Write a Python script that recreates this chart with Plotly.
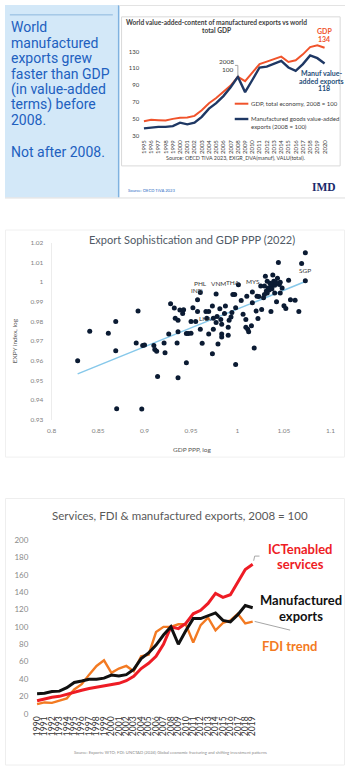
import plotly.graph_objects as go

W, H = 350, 774

def px(x):
    return x / W

def py(y):
    return 1 - y / H

# ---------------- Panel 1 data ----------------
years_top = list(range(1995, 2021))
gdp_index = [47.8, 49.4, 49, 48.6, 50.5, 51.7, 52, 54, 60.6, 69, 75, 82, 89.7, 100,
             95, 105, 115, 118, 120.7, 123.8, 117.5, 119.5, 126.5, 135, 137.3, 134.3]
manuf_va_index = [39.3, 40.5, 41, 41, 42, 46, 44, 46, 52.9, 62.6, 69, 77.3, 87.8, 100,
                  82, 96.3, 111, 112, 115.7, 118.7, 111, 107, 115, 125.3, 122, 115.7]
top_yticks = [30, 50, 70, 90, 110, 130]
left_text_lines = ["World", "manufactured", "exports grew", "faster than GDP",
                   "(in value-added", "terms) before", "2008."]
left_text_last = "Not after 2008."

# ---------------- Panel 2 data ----------------
gdp_ppp_log = [0.828, 0.841, 0.861, 0.869, 0.869, 0.870, 0.893, 0.891, 0.898, 0.900,
               0.897, 0.910, 0.911, 0.913, 0.914, 0.921, 0.922, 0.926, 0.928, 0.932,
               0.933, 0.936, 0.936, 0.935, 0.936, 0.938, 0.941, 0.942, 0.945, 0.945,
               0.947, 0.950, 0.950, 0.952, 0.955, 0.957, 0.957, 0.960, 0.960, 0.962,
               0.966, 0.967, 0.969, 0.969, 0.973, 0.973, 0.974, 0.974, 0.977, 0.977,
               0.978, 0.979, 0.981, 0.982, 0.983, 0.983, 0.983, 0.986, 0.987, 0.990,
               0.990, 0.991, 0.993, 0.994, 0.995, 0.997, 0.998, 0.998, 1.001, 1.004,
               1.006, 1.009, 1.009, 1.011, 1.012, 1.015, 1.010, 1.016, 1.016, 1.018,
               1.020, 1.021, 1.022, 1.023, 1.025, 1.026, 1.028, 1.029, 1.030, 1.031,
               1.032, 1.033, 1.035, 1.036, 1.036, 1.038, 1.039, 1.040, 1.042, 1.043,
               1.044, 1.045, 1.046, 1.048, 1.050, 1.052, 1.055, 1.057, 1.062, 1.066,
               1.069, 1.073, 1.073, 1.037, 1.040, 1.041, 1.034, 1.037, 1.032, 1.029,
               1.046]
expy_log = [0.960, 0.975, 0.974, 0.980, 0.965, 0.9355, 0.9853, 0.969, 0.9677, 0.968,
            0.9354, 0.9677, 0.9657, 0.9648, 0.952, 0.969, 0.964, 0.9736, 0.989, 0.9868,
            0.9816, 0.9806, 0.9748, 0.969, 0.9513, 0.9858, 0.984, 0.986, 0.959, 0.9739,
            0.9739, 0.974, 0.980, 0.987, 0.980, 0.991, 0.985, 0.9947, 0.976, 0.9689,
            0.985, 0.9816, 0.985, 0.9736, 0.9635, 0.9878, 0.9816, 0.976, 0.994, 0.9794,
            0.9825, 0.9685, 0.9865, 0.981, 0.9786, 0.9736, 0.972, 0.984, 0.9878, 0.977,
            0.973, 0.9806, 0.9823, 0.9845, 0.9937, 0.9937, 0.958, 0.987, 0.9987, 0.9907,
            0.9836, 0.981, 0.977, 0.976, 0.9748, 0.9778, 0.9928, 0.9895, 0.995, 0.9664,
            0.9853, 0.9928, 0.9815, 0.9927, 0.998, 0.9861, 0.992, 0.998, 1.003, 0.9955,
            1.0005, 0.997, 0.9995, 0.998, 0.985, 1.0037, 1.0004, 0.9945, 0.990, 1.002,
            1.010, 0.9988, 1.000, 0.997, 0.988, 0.9866, 1.001, 0.991, 0.9908, 0.985,
            1.0095, 1.015, 1.0007, 0.999, 0.9984, 1.000, 0.996, 0.9967, 0.9945, 0.9937,
            0.9945]
trend_x = [0.828, 1.073]
trend_y = [0.9533, 1.0003]
country_labels = [("PHL", 0.9607, 0.9995), ("VNM", 0.9798, 0.9994), ("IND", 0.9565, 0.9959),
                  ("THA", 0.9955, 0.9996), ("MYS", 1.0164, 1.0004), ("LKA", 0.9659, 0.9813),
                  ("SGP", 1.0731, 1.0059)]
sc_xticks = [0.8, 0.85, 0.9, 0.95, 1.0, 1.05, 1.1]
sc_xticktext = ["0.8", "0.85", "0.9", "0.95", "1", "1.05", "1.1"]
sc_yticks = [0.93, 0.94, 0.95, 0.96, 0.97, 0.98, 0.99, 1.0, 1.01, 1.02]
sc_yticktext = ["0.93", "0.94", "0.95", "0.96", "0.97", "0.98", "0.99", "1", "1.01", "1.02"]

# ---------------- Panel 3 data ----------------
years_bot = list(range(1990, 2020))
ict_services = [15, 17, 19, 20, 22.6, 24.5, 27, 29, 30.5, 32, 34, 35, 38, 43, 52, 58, 66, 80,
                100, 98, 104, 115, 119, 127, 138.5, 134, 137, 151, 166, 172]
manuf_exports = [23, 23.5, 25.5, 26, 30, 36, 37.7, 39.6, 39.6, 41, 44.5, 43.4, 45, 51, 63.4,
                 70, 79, 90.6, 100, 80, 95.5, 109.5, 109.5, 113, 116, 107.5, 105.7, 114, 124.5, 122]
fdi_trend = [11, 13, 12.5, 15, 17.7, 28, 34, 45, 55, 61.5, 47, 52, 55, 49, 66, 68, 94, 100,
             100, 103, 103, 82, 102, 110.6, 96, 104.5, 107.5, 115, 104, 106]
bot_yticks = [0, 20, 40, 60, 80, 100, 120, 140, 160, 180, 200]

GRAY = "#595959"
fig = go.Figure()

# Panel 1 traces
fig.add_trace(go.Scatter(x=years_top, y=gdp_index, mode="lines",
                         line=dict(color="#f0532b", width=2), xaxis="x", yaxis="y",
                         showlegend=False, hoverinfo="skip"))
fig.add_trace(go.Scatter(x=years_top, y=manuf_va_index, mode="lines",
                         line=dict(color="#1f3864", width=2.4), xaxis="x", yaxis="y",
                         showlegend=False, hoverinfo="skip"))
# Panel 2 traces
fig.add_trace(go.Scatter(x=trend_x, y=trend_y, mode="lines",
                         line=dict(color="#86c8ea", width=1.5), xaxis="x2", yaxis="y2",
                         showlegend=False, hoverinfo="skip"))
fig.add_trace(go.Scatter(x=gdp_ppp_log, y=expy_log, mode="markers",
                         marker=dict(color="#0b1b33", size=5), xaxis="x2", yaxis="y2",
                         showlegend=False, hoverinfo="skip"))
# Panel 3 traces
fig.add_trace(go.Scatter(x=years_bot, y=fdi_trend, mode="lines",
                         line=dict(color="#f37a22", width=2.4), xaxis="x3", yaxis="y3",
                         showlegend=False, hoverinfo="skip"))
fig.add_trace(go.Scatter(x=years_bot, y=ict_services, mode="lines",
                         line=dict(color="#ee1c25", width=3), xaxis="x3", yaxis="y3",
                         showlegend=False, hoverinfo="skip"))
fig.add_trace(go.Scatter(x=years_bot, y=manuf_exports, mode="lines",
                         line=dict(color="#111111", width=3), xaxis="x3", yaxis="y3",
                         showlegend=False, hoverinfo="skip"))

shapes = []
# Panel 1 background blue box
shapes.append(dict(type="rect", xref="paper", yref="paper", x0=px(0), x1=px(117), y0=py(195), y1=py(0),
                   fillcolor="#d3e8f8", line=dict(width=0), layer="below"))
shapes.append(dict(type="line", xref="paper", yref="paper", x0=px(117), x1=px(117), y0=py(195), y1=py(0),
                   line=dict(color="#7fb2e0", width=1.5)))
shapes.append(dict(type="line", xref="paper", yref="paper", x0=px(5), x1=px(111), y0=py(10), y1=py(10),
                   line=dict(color="#8db7dd", width=1)))
shapes.append(dict(type="line", xref="paper", yref="paper", x0=0, x1=1, y0=py(195.5), y1=py(195.5),
                   line=dict(color="#dddddd", width=1)))
shapes.append(dict(type="line", xref="paper", yref="paper", x0=px(117), x1=1, y0=py(0.5), y1=py(0.5),
                   line=dict(color="#e3e3e3", width=1)))
# chart card border
shapes.append(dict(type="rect", xref="paper", yref="paper", x0=px(120), x1=px(345), y0=py(163), y1=py(12),
                   line=dict(color="#d9d9d9", width=1), fillcolor="rgba(0,0,0,0)"))
# legend swatches
shapes.append(dict(type="line", xref="paper", yref="paper", x0=px(236.5), x1=px(250.5), y0=py(100), y1=py(100),
                   line=dict(color="#f0532b", width=2)))
shapes.append(dict(type="line", xref="paper", yref="paper", x0=px(236.5), x1=px(250.5), y0=py(115.5), y1=py(115.5),
                   line=dict(color="#1f3864", width=2.4)))
# 2008 leader line
shapes.append(dict(type="line", xref="x", yref="y", x0=2008, x1=2008, y0=101, y1=113.5,
                   line=dict(color="#a6a6a6", width=1)))
shapes.append(dict(type="line", xref="x", yref="y", x0=2007.6, x1=2008, y0=113.5, y1=113.5,
                   line=dict(color="#a6a6a6", width=1)))
# panel 2 / 3 faint frames
shapes.append(dict(type="rect", xref="paper", yref="paper", x0=px(0.5), x1=px(349.5), y0=py(458), y1=py(228),
                   line=dict(color="#f0f0f0", width=1), fillcolor="rgba(0,0,0,0)"))
shapes.append(dict(type="rect", xref="paper", yref="paper", x0=px(0.5), x1=px(349.5), y0=py(770), y1=py(500),
                   line=dict(color="#eeeeee", width=1), fillcolor="rgba(0,0,0,0)"))
# panel 3 leader lines
shapes.append(dict(type="path", xref="paper", yref="paper",
                   path=f"M {px(256)},{py(563)} L {px(257)},{py(558.3)} L {px(262)},{py(558.3)}",
                   line=dict(color="#a6a6a6", width=1)))
shapes.append(dict(type="line", xref="paper", yref="paper", x0=px(257), x1=px(293.5), y0=py(624.5), y1=py(633.3),
                   line=dict(color="#a6a6a6", width=1)))

ann = []
for i, t in enumerate(left_text_lines):
    ann.append(dict(text=t, x=px(4.5), y=py(22.5 + i * 15.7), xref="paper", yref="paper",
                    xanchor="left", yanchor="middle", showarrow=False,
                    font=dict(family="Roboto", size=14, color="#2160bf")))
ann.append(dict(text=left_text_last, x=px(4.5), y=py(148.5), xref="paper", yref="paper",
                xanchor="left", yanchor="middle", showarrow=False,
                font=dict(family="Roboto", size=14, color="#2160bf")))

def t(text, x, y, size, color=GRAY, family="Lato", anchor="center", bold=False, **kw):
    if bold:
        text = f"<b>{text}</b>"
    d = dict(text=text, x=px(x), y=py(y), xref="paper", yref="paper", xanchor=anchor,
             yanchor="middle", showarrow=False, font=dict(family=family, size=size, color=color))
    d.update(kw)
    return d

# Panel 1 text
ann.append(t("World value-added-content of manufactured exports vs world", 218, 17.5, 6.6, "#404040", bold=True))
ann.append(t("total GDP", 218, 25.7, 6.6, "#404040", bold=True))
ann.append(t("2008", 228, 57, 6.5, "#404040"))
ann.append(t("100", 229.5, 65, 6.5, "#404040"))
ann.append(t("GDP", 328.5, 26.7, 7, "#f0532b", bold=True))
ann.append(t("134", 328.5, 34.3, 7, "#f0532b", bold=True))
ann.append(t("Manuf value-", 325.5, 69, 7, "#1f4e79", bold=True))
ann.append(t("added exports", 325.5, 76.7, 7, "#1f4e79", bold=True))
ann.append(t("118", 328, 84.3, 7, "#1f4e79", bold=True))
ann.append(t("GDP, total economy, 2008 = 100", 251.5, 100, 6, "#404040", anchor="left"))
ann.append(t("Manufactured goods value-added", 251.5, 115.3, 6, "#404040", anchor="left"))
ann.append(t("exports (2008 = 100)", 251.5, 122.7, 6, "#404040", anchor="left"))
ann.append(t("Source: OECD TiVA 2023, EXGR_DVA(manuf), VALU(total).", 237, 155.3, 5.4, "#404040"))
ann.append(t("Source: OECD TiVA 2023", 125, 187.7, 4.2, "#2b6cc4", anchor="left"))
ann.append(t("IMD", 328, 184.5, 11.5, "#1b2a6b", family="Liberation Serif", bold=True))

# Panel 2 text
ann.append(t("Export Sophistication and GDP PPP (2022)", 193, 237.5, 11, "#505a66"))
ann.append(t("GDP PPP, log", 193, 450, 6.5, GRAY))
ann.append(t("EXPY index, log", 10, 340, 6.5, GRAY, textangle=-90))
for lab, lx, ly in country_labels:
    ann.append(dict(text=lab, x=lx, y=ly, xref="x2", yref="y2", xanchor="center", yanchor="middle",
                    showarrow=False, font=dict(family="Lato", size=6.5, color="#3a3a3a")))

# Panel 3 text
ann.append(t("Services, FDI & manufactured exports, 2008 = 100", 180, 517, 11.5, GRAY))
ann.append(t("ICTenabled", 304, 551, 13, "#ee1c25", bold=True))
ann.append(t("services", 304, 566.7, 13, "#ee1c25", bold=True))
ann.append(t("Manufactured", 304.5, 603, 13, "#111111", bold=True))
ann.append(t("exports", 304.5, 618.5, 13, "#111111", bold=True))
ann.append(t("FDI trend", 292.5, 649.3, 13, "#f37a22", bold=True))
ann.append(t("Source: Exports: WTO; FDI: UNCTAD (2024) Global economic fracturing and shifting investment patterns",
             170, 757, 4.2, "#8a8a8a"))

axis_common = dict(showgrid=False, zeroline=False, ticks="", fixedrange=True)

fig.update_layout(
    width=W, height=H, margin=dict(l=0, r=0, t=0, b=0),
    paper_bgcolor="white", plot_bgcolor="rgba(0,0,0,0)",
    showlegend=False,
    xaxis=dict(domain=[px(139.3), px(332.7)], range=[1994.5, 2020.5], anchor="y",
               tickvals=years_top, ticktext=[str(y) for y in years_top], tickangle=-90,
               tickfont=dict(family="Lato", size=6, color="#404040"), showline=False, **axis_common),
    yaxis=dict(domain=[py(134.7), py(38.4)], range=[28, 140], anchor="x",
               tickvals=top_yticks, tickfont=dict(family="Lato", size=6, color="#404040"),
               showline=False, **axis_common),
    xaxis2=dict(domain=[px(48), px(335)], range=[0.8, 1.1], anchor="y2",
                tickvals=sc_xticks, ticktext=sc_xticktext,
                tickfont=dict(family="Lato", size=6.5, color="#7f7f7f"), ticklabelstandoff=6,
                showline=False, **axis_common),
    yaxis2=dict(domain=[py(420), py(241)], range=[0.93, 1.02], anchor="x2",
                tickvals=sc_yticks, ticktext=sc_yticktext,
                tickfont=dict(family="Lato", size=6.5, color="#7f7f7f"), ticklabelstandoff=6,
                showline=True, linecolor="#ececec", linewidth=1, **axis_common),
    xaxis3=dict(domain=[px(29.2), px(258.8)], range=[1989.5, 2019.5], anchor="y3",
                tickvals=years_bot, ticktext=[str(y) for y in years_bot], tickangle=-90,
                tickfont=dict(family="Lato", size=8.5, color="#333333"), showline=False, **axis_common),
    yaxis3=dict(domain=[py(718), py(542)], range=[0, 200], anchor="x3",
                tickvals=bot_yticks, tickfont=dict(family="Lato", size=8, color="#8a8a8a"),
                ticklabelstandoff=4, showline=False, **axis_common),
    shapes=shapes, annotations=ann,
)

fig.write_html("out.html")
